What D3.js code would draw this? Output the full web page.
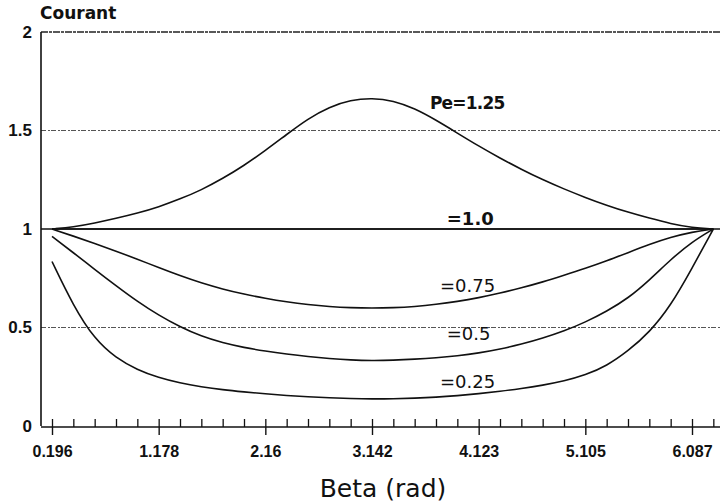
<!DOCTYPE html>
<html>
<head>
<meta charset="utf-8">
<script src="https://cdn.jsdelivr.net/npm/d3@7/dist/d3.min.js"></script>
<style>
  html, body { margin: 0; padding: 0; background: #fff; }
  svg { display: block; }
</style>
</head>
<body>
<svg id="chart" width="720" height="502"></svg>
<script>
// Beta sampled at k*pi/16, k = 1..32
const betaSteps = d3.range(1, 33);
const majorSteps = [1, 6, 11, 16, 21, 26, 31];
const xTickLabels = ["0.196", "1.178", "2.16", "3.142", "4.123", "5.105", "6.087"];
const yTicks = [0, 0.5, 1, 1.5, 2];
const yTickLabels = ["0", "0.5", "1", "1.5", "2"];

// Courant vs Beta, one array per Pe value
const pe125 = [1.000, 1.010, 1.030, 1.054, 1.080, 1.112, 1.152, 1.198, 1.256, 1.322, 1.398, 1.480,
               1.560, 1.620, 1.655, 1.665, 1.652, 1.612, 1.553, 1.487, 1.421, 1.360, 1.303, 1.250,
               1.203, 1.160, 1.120, 1.085, 1.055, 1.027, 1.007, 1.000];
const pe100 = [1, 1, 1, 1, 1, 1, 1, 1, 1, 1, 1, 1, 1, 1, 1, 1,
               1, 1, 1, 1, 1, 1, 1, 1, 1, 1, 1, 1, 1, 1, 1, 1];
const pe075 = [1.000, 0.964, 0.927, 0.888, 0.847, 0.804, 0.763, 0.726, 0.695, 0.669, 0.648, 0.630,
               0.616, 0.606, 0.600, 0.598, 0.600, 0.606, 0.617, 0.632, 0.651, 0.674, 0.701, 0.731,
               0.765, 0.800, 0.838, 0.880, 0.922, 0.958, 0.985, 1.000];
const pe050 = [0.962, 0.880, 0.795, 0.712, 0.632, 0.562, 0.503, 0.455, 0.422, 0.398, 0.380, 0.365,
               0.352, 0.342, 0.335, 0.332, 0.334, 0.339, 0.346, 0.356, 0.370, 0.390, 0.415, 0.446,
               0.482, 0.527, 0.582, 0.648, 0.740, 0.845, 0.935, 1.000];
const pe025 = [0.835, 0.610, 0.440, 0.345, 0.285, 0.245, 0.218, 0.199, 0.184, 0.173, 0.163, 0.155,
               0.148, 0.143, 0.139, 0.137, 0.138, 0.141, 0.146, 0.154, 0.164, 0.176, 0.190, 0.207,
               0.228, 0.258, 0.305, 0.380, 0.475, 0.610, 0.800, 1.000];

const seriesList = [pe125, pe100, pe075, pe050, pe025];

// curve labels, anchored in data units (beta, courant)
const curveLabels = ["Pe=1.25", "=1.0", "=0.75", "=0.5", "=0.25"];
const labelBeta = [3.675, 3.83, 3.767, 3.83, 3.767];
const labelCourant = [1.61, 1.022, 0.68, 0.437, 0.193];

const step = Math.PI / 16;
const frame = { left: 41, right: 720, top: 32, bottom: 426 };

const svg = d3.select("#chart");
const x = d3.scaleLinear().domain([step, 31 * step]).range([52, 692]);
const y = d3.scaleLinear().domain([0, 2]).range([frame.bottom, frame.top]);

// horizontal reference lines
const gridStyle = {
  2:   { stroke: "#222", width: 1.6, dash: "7,1,3,1" },
  1.5: { stroke: "#555", width: 1.0, dash: "5,2,2,1" },
  1:   { stroke: "#111", width: 1.5, dash: null },
  0.5: { stroke: "#555", width: 1.0, dash: "5,2,2,1" }
};
svg.append("g").selectAll("line")
  .data([2, 1.5, 1, 0.5])
  .join("line")
  .attr("x1", frame.left).attr("x2", frame.right)
  .attr("y1", d => y(d)).attr("y2", d => y(d))
  .attr("stroke", d => gridStyle[d].stroke)
  .attr("stroke-width", d => gridStyle[d].width)
  .attr("stroke-dasharray", d => gridStyle[d].dash);

const tickFont = "Liberation Sans, Arial, sans-serif";

// left axis
const yAxis = d3.axisLeft(y).tickValues(yTicks).tickSize(0).tickPadding(9)
  .tickFormat((d, i) => yTickLabels[i]);
const gy = svg.append("g").attr("transform", `translate(${frame.left},0)`).call(yAxis);
gy.select(".domain").attr("d", `M0,${frame.top}V${frame.bottom}`)
  .attr("stroke", "#111").attr("stroke-width", 1.6);
gy.selectAll("text")
  .attr("font-family", tickFont)
  .attr("font-weight", "bold").attr("font-size", 17).attr("fill", "#111");

// bottom axis: minor ticks pointing up, majors crossing with labels
const minorAxis = d3.axisBottom(x).tickValues(betaSteps.map(k => k * step))
  .tickSize(-8).tickFormat("");
const gMinor = svg.append("g").attr("transform", `translate(0,${frame.bottom + 1})`).call(minorAxis);
gMinor.select(".domain").attr("d", `M${frame.left},0H${frame.right}`)
  .attr("stroke", "#111").attr("stroke-width", 1.5);
gMinor.selectAll(".tick line").attr("stroke", "#111").attr("stroke-width", 1.3);

const majorAxis = d3.axisBottom(x).tickValues(majorSteps.map(k => k * step))
  .tickSize(8).tickPadding(11).tickFormat((d, i) => xTickLabels[i]);
const gMajor = svg.append("g").attr("transform", `translate(0,${frame.bottom + 1})`).call(majorAxis);
gMajor.select(".domain").remove();
gMajor.selectAll(".tick line").attr("stroke", "#111").attr("stroke-width", 1.4);
gMajor.selectAll("text")
  .attr("font-family", tickFont)
  .attr("font-weight", "bold").attr("font-size", 16).attr("fill", "#111");

// curves
const line = d3.line()
  .x((d, i) => x(betaSteps[i] * step))
  .y(d => y(d))
  .curve(d3.curveBasis);

svg.append("g").selectAll("path")
  .data(seriesList)
  .join("path")
  .attr("d", d => line(d))
  .attr("fill", "none")
  .attr("stroke", "#111")
  .attr("stroke-width", 1.6);

// curve labels
svg.append("g").selectAll("text")
  .data(curveLabels)
  .join("text")
  .attr("x", (d, i) => x(labelBeta[i]))
  .attr("y", (d, i) => y(labelCourant[i]))
  .text(d => d)
  .attr("font-family", "DejaVu Sans, sans-serif")
  .attr("font-weight", (d, i) => i < 2 ? "bold" : "normal")
  .attr("font-size", (d, i) => i === 0 ? 17 : 18)
  .attr("letter-spacing", (d, i) => i === 0 ? -0.8 : 0)
  .attr("fill", "#111");

// axis titles
svg.append("text")
  .attr("x", 40).attr("y", 19)
  .text("Courant")
  .attr("font-family", "DejaVu Sans, sans-serif")
  .attr("font-weight", "bold").attr("font-size", 17).attr("fill", "#111");

svg.append("text")
  .attr("x", 383).attr("y", 497)
  .attr("text-anchor", "middle")
  .text("Beta (rad)")
  .attr("font-family", "DejaVu Sans, sans-serif")
  .attr("font-size", 25).attr("fill", "#111");
</script>
</body>
</html>
